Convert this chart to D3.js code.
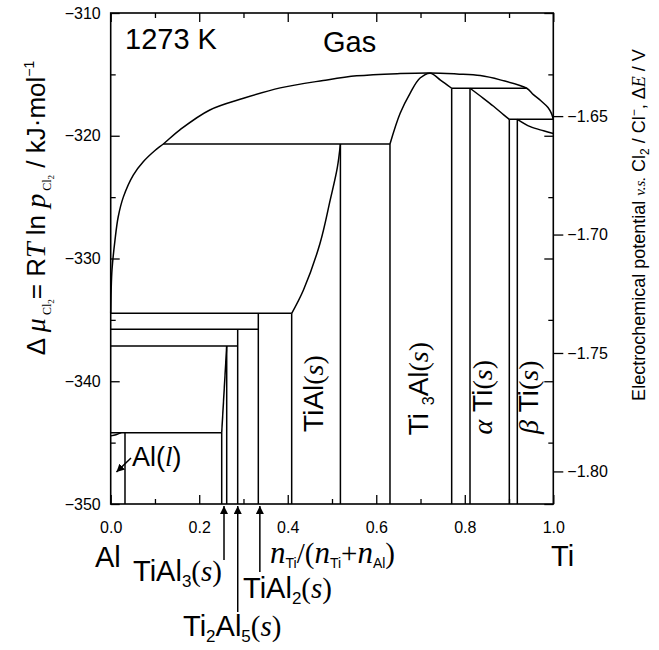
<!DOCTYPE html>
<meta charset="utf-8">
<head>
  <title>Ti-Al chlorine potential diagram, 1273 K</title>
</head>

<style>
body { margin: 0; background: #fff; }
text {
  font-family: "Liberation Sans", Arial, Helvetica, sans-serif;
  fill: black;
}
.ln { fill: none; stroke: black; stroke-width: 1.5; }
.frame { fill: none; stroke: black; stroke-width: 1.6; }
.it { font-family: "Liberation Serif", "Times New Roman", serif; font-style: italic; }
.sr { font-family: "Liberation Serif", "Times New Roman", serif; }
</style>

<body>
  <svg width="659" height="650"></svg>

  <script src="https://cdnjs.cloudflare.com/ajax/libs/d3/7.8.5/d3.min.js"></script>
  <script>
// axis ticks
var xTicks = [0, 0.2, 0.4, 0.6, 0.8, 1.0];
var xMinor = [0.1, 0.3, 0.5, 0.7, 0.9];
var muTicks = [-350, -340, -330, -320, -310];
var muMinor = [-345, -335, -325, -315];
var eTicks = [-1.65, -1.70, -1.75, -1.80];

// gas / condensed boundary  [n_Ti/(n_Ti+n_Al), delta mu]
var gasEdge = [[0, -334.47], [0.001, -332.6], [0.003, -330.9], [0.0097, -328.5], [0.017, -326.6],
  [0.0285, -325.0], [0.051, -323.2], [0.074, -322.1], [0.1, -321.2], [0.119, -320.67],
  [0.157, -319.5], [0.224, -317.9], [0.30, -316.95], [0.383, -316.1], [0.48, -315.5],
  [0.556, -315.12], [0.654, -314.93], [0.722, -314.88], [0.782, -314.97], [0.835, -315.1],
  [0.88, -315.45], [0.94, -316.13], [0.955, -316.65], [0.972, -317.15], [0.988, -317.7],
  [0.996, -318.2], [1.0, -318.66]];

// single phase boundaries
var tiAlEdge = [[0.409, -334.47], [0.4355, -332.57], [0.473, -328.76], [0.496, -325.23], [0.512, -322.6], [0.519, -320.67]];
var ti3AlEdge = [[0.631, -320.67], [0.654, -318.17], [0.677, -316.5], [0.699, -315.3], [0.722, -314.9], [0.745, -315.46], [0.7704, -316.13]];
var alphaEdge = [[0.8118, -316.13], [0.842, -316.95], [0.865, -317.6], [0.888, -318.3], [0.9006, -318.66]];
var betaEdge = [[0.9187, -318.66], [0.948, -319.26], [0.978, -319.6], [1.0, -319.82]];
var tiAl3Edge = [[0.2508, -344.19], [0.2621, -337.13]];
var alLiqEdge = [[0, -344.45], [0.012, -344.36], [0.024, -344.19]];

// three-phase lines  [x from, x to, delta mu]
var ties = [
  [0.119, 0.631, -320.67],
  [0.7704, 0.94, -316.13],
  [0.9006, 1.0, -318.66],
  [0, 0.409, -334.47],
  [0, 0.3335, -335.77],
  [0, 0.2869, -337.13],
  [0, 0.2508, -344.19]
];

// two-phase edges running down to the axis  [x, top delta mu]
var walls = [
  [0.0323, -344.19], [0.2508, -344.19], [0.2621, -337.13], [0.2869, -335.77],
  [0.3335, -334.47], [0.4089, -334.47], [0.519, -320.67], [0.631, -320.67],
  [0.7704, -316.13], [0.8118, -316.13], [0.9006, -318.66], [0.9187, -318.66]
];

// compositions of the arrowed compounds
var compoundX = [0.256, 0.287, 0.337];

var F2 = 2 * 96.485;
var svg = d3.select('svg');

var x = d3.scaleLinear().domain([0, 1]).range([110.7, 553.3]);
var y = d3.scaleLinear().domain([-350, -310]).range([504, 13]);
var yE = d3.scaleLinear().domain([-350 / F2, -310 / F2]).range([504, 13]);

var defs = svg.append('defs');
defs.append('marker')
  .attr('id', 'head')
  .attr('viewBox', '0 0 10 10')
  .attr('refX', 10).attr('refY', 5)
  .attr('markerWidth', 8).attr('markerHeight', 8)
  .attr('markerUnits', 'userSpaceOnUse')
  .attr('orient', 'auto')
  .append('path').attr('d', 'M0,0 L10,5 L0,10 z').attr('fill', 'black');

function styleAxis(g, size) {
  g.select('.domain').remove();
  g.selectAll('text').attr('font-size', size || 16).attr('font-family', '"Liberation Sans", Arial, sans-serif');
  g.selectAll('line').attr('stroke-width', 1.3);
}

// bottom
svg.append('g').attr('transform', 'translate(0,504)')
  .call(d3.axisBottom(x).tickValues(xTicks).tickSizeInner(-9).tickSizeOuter(0).tickPadding(18).tickFormat(d3.format('.1f')))
  .call(styleAxis);
svg.append('g').attr('transform', 'translate(0,504)')
  .call(d3.axisBottom(x).tickValues(xMinor).tickSizeInner(-5).tickSizeOuter(0).tickFormat(''))
  .call(styleAxis);
// top
svg.append('g').attr('transform', 'translate(0,13)')
  .call(d3.axisTop(x).tickValues(xTicks).tickSizeInner(-9).tickSizeOuter(0).tickFormat(''))
  .call(styleAxis);
svg.append('g').attr('transform', 'translate(0,13)')
  .call(d3.axisTop(x).tickValues(xMinor).tickSizeInner(-5).tickSizeOuter(0).tickFormat(''))
  .call(styleAxis);
// left
svg.append('g').attr('transform', 'translate(110.7,0)')
  .call(d3.axisLeft(y).tickValues(muTicks).tickSizeInner(-9).tickSizeOuter(0).tickPadding(10).tickFormat(d3.format('d')))
  .call(styleAxis);
svg.append('g').attr('transform', 'translate(110.7,0)')
  .call(d3.axisLeft(y).tickValues(muMinor).tickSizeInner(-5).tickSizeOuter(0).tickFormat(''))
  .call(styleAxis);
// right, mirrored mu ticks inside
svg.append('g').attr('transform', 'translate(553.3,0)')
  .call(d3.axisRight(y).tickValues(muTicks).tickSizeInner(-9).tickSizeOuter(0).tickFormat(''))
  .call(styleAxis);
svg.append('g').attr('transform', 'translate(553.3,0)')
  .call(d3.axisRight(y).tickValues(muMinor).tickSizeInner(-5).tickSizeOuter(0).tickFormat(''))
  .call(styleAxis);
// right, potential
svg.append('g').attr('transform', 'translate(553.3,0)')
  .call(d3.axisRight(yE).tickValues(eTicks).tickSizeInner(10).tickSizeOuter(0).tickPadding(4).tickFormat(d3.format('.2f')))
  .call(styleAxis);

svg.append('rect').attr('class', 'frame')
  .attr('x', x(0)).attr('y', y(-310))
  .attr('width', x(1) - x(0)).attr('height', y(-350) - y(-310));

// boundaries
var curve = d3.line().x(function(d) { return x(d[0]); }).y(function(d) { return y(d[1]); })
  .curve(d3.curveCatmullRom.alpha(0.5));
var straight = d3.line().x(function(d) { return x(d[0]); }).y(function(d) { return y(d[1]); });

[gasEdge, tiAlEdge, ti3AlEdge, alphaEdge, betaEdge, alLiqEdge].forEach(function(p) {
  svg.append('path').attr('class', 'ln').attr('d', curve(p));
});
svg.append('path').attr('class', 'ln').attr('d', straight(tiAl3Edge));

svg.selectAll('line.tie').data(ties).enter().append('line')
  .attr('class', 'ln tie')
  .attr('x1', function(d) { return x(d[0]); })
  .attr('x2', function(d) { return x(d[1]); })
  .attr('y1', function(d) { return y(d[2]); })
  .attr('y2', function(d) { return y(d[2]); });

svg.selectAll('line.wall').data(walls).enter().append('line')
  .attr('class', 'ln wall')
  .attr('x1', function(d) { return x(d[0]); })
  .attr('x2', function(d) { return x(d[0]); })
  .attr('y1', function(d) { return y(d[1]); })
  .attr('y2', y(-350));

// arrows to compounds under the axis
var arrowTail = [560, 612, 572];
svg.selectAll('line.arr').data(compoundX).enter().append('line')
  .attr('class', 'ln arr')
  .attr('stroke-width', 1.3)
  .attr('x1', function(d) { return x(d); })
  .attr('x2', function(d) { return x(d); })
  .attr('y1', function(d, i) { return arrowTail[i]; })
  .attr('y2', y(-350) + 2)
  .attr('marker-end', 'url(#head)');

// Al(l) arrow
svg.append('line').attr('class', 'ln')
  .attr('x1', 131).attr('y1', 458).attr('x2', x(0.013)).attr('y2', y(-347.4))
  .attr('marker-end', 'url(#head)');

// labels
svg.append('text').attr('x', 125).attr('y', 49).attr('font-size', 29).text('1273 K');
svg.append('text').attr('x', 323).attr('y', 52).attr('font-size', 29).text('Gas');

var t = svg.append('text').attr('x', 132).attr('y', 466).attr('font-size', 27);
t.append('tspan').text('Al(');
t.append('tspan').attr('class', 'it').text('l');
t.append('tspan').text(')');

function phaseLabel(parts, px, mu) {
  var tx = svg.append('text')
    .attr('transform', 'translate(' + x(px) + ',' + y(mu) + ') rotate(-90)')
    .attr('text-anchor', 'middle')
    .attr('font-size', 28);
  parts.forEach(function(p) {
    var s = tx.append('tspan').text(p.t);
    if (p.c) s.attr('class', p.c);
    if (p.dy) s.attr('dy', p.dy);
    if (p.fs) s.attr('font-size', p.fs);
  });
}
var sParts = [{ t: '(', c: 'sr' }, { t: 's', c: 'it' }, { t: ')', c: 'sr' }];
phaseLabel([{ t: 'TiAl' }].concat(sParts), 0.480, -341.0);
phaseLabel([{ t: 'Ti ' }, { t: '3', fs: 16, dy: 6 }, { t: 'Al', dy: -6 }].concat(sParts), 0.717, -340.6);
phaseLabel([{ t: 'α', c: 'it' }, { t: ' Ti' }].concat(sParts), 0.861, -341.3);
phaseLabel([{ t: 'β', c: 'it' }, { t: ' Ti' }].concat(sParts), 0.966, -341.3);

function flatLabel(parts, px, py, anchor) {
  var tx = svg.append('text').attr('x', px).attr('y', py).attr('font-size', 29)
    .attr('text-anchor', anchor || 'start');
  parts.forEach(function(p) {
    var s = tx.append('tspan').text(p.t);
    if (p.c) s.attr('class', p.c);
    if (p.dy) s.attr('dy', p.dy);
    if (p.fs) s.attr('font-size', p.fs);
  });
}
flatLabel([{ t: 'Al' }], 95, 567);
flatLabel([{ t: 'Ti' }], 551, 566);
flatLabel([{ t: 'TiAl' }, { t: '3', fs: 17, dy: 6 }, { t: '(', c: 'sr', dy: -6 }, { t: 's', c: 'it' }, { t: ')', c: 'sr' }], 133, 581);
flatLabel([{ t: 'TiAl' }, { t: '2', fs: 17, dy: 6 }, { t: '(', c: 'sr', dy: -6 }, { t: 's', c: 'it' }, { t: ')', c: 'sr' }], 243, 598);
flatLabel([{ t: 'Ti' }, { t: '2', fs: 17, dy: 6 }, { t: 'Al', dy: -6 }, { t: '5', fs: 17, dy: 6 }, { t: '(', c: 'sr', dy: -6 }, { t: 's', c: 'it' }, { t: ')', c: 'sr' }], 183, 636);
flatLabel([{ t: 'n', c: 'it', fs: 31 }, { t: 'Ti', fs: 14, dy: 5 }, { t: '/(', c: 'sr', dy: -5 }, { t: 'n', c: 'it', fs: 31 },
  { t: 'Ti', fs: 14, dy: 5 }, { t: '+', c: 'sr', dy: -5 }, { t: 'n', c: 'it', fs: 31 }, { t: 'Al', fs: 14, dy: 5 }, { t: ')', c: 'sr', dy: -5 }], 270, 563);

// axis titles
var lt = svg.append('text').attr('transform', 'translate(45,208) rotate(-90)')
  .attr('text-anchor', 'middle').attr('font-size', 26);
lt.append('tspan').text('Δ ');
lt.append('tspan').attr('class', 'it').attr('font-size', 28).text('μ');
lt.append('tspan').attr('class', 'sr').attr('font-size', 12).attr('dy', 6).text(' Cl');
lt.append('tspan').attr('class', 'sr').attr('font-size', 9).attr('dy', 3).text('2');
lt.append('tspan').attr('dy', -9).text('= R');
lt.append('tspan').attr('class', 'it').attr('font-size', 28).text('T');
lt.append('tspan').text(' ln ');
lt.append('tspan').attr('class', 'it').attr('font-size', 28).text('p');
lt.append('tspan').attr('class', 'sr').attr('font-size', 12).attr('dy', 6).text(' Cl');
lt.append('tspan').attr('class', 'sr').attr('font-size', 9).attr('dy', 3).text('2');
lt.append('tspan').attr('dy', -9).text('  /  kJ·mol');
lt.append('tspan').attr('font-size', 14).attr('dy', -11).text('−1');

var rt = svg.append('text').attr('transform', 'translate(645,225) rotate(-90)')
  .attr('text-anchor', 'middle').attr('font-size', 18);
rt.append('tspan').text('Electrochemical potential ');
rt.append('tspan').attr('class', 'it').attr('font-size', 15).text('v.s.');
rt.append('tspan').text(' Cl');
rt.append('tspan').attr('font-size', 12).attr('dy', 4).text('2');
rt.append('tspan').attr('dy', -4).text(' / Cl');
rt.append('tspan').attr('font-size', 12).attr('dy', -7).text('−');
rt.append('tspan').attr('dy', 7).text(', Δ');
rt.append('tspan').attr('class', 'it').text('E');
rt.append('tspan').text(' / V');
  </script>
</body>
</html>
